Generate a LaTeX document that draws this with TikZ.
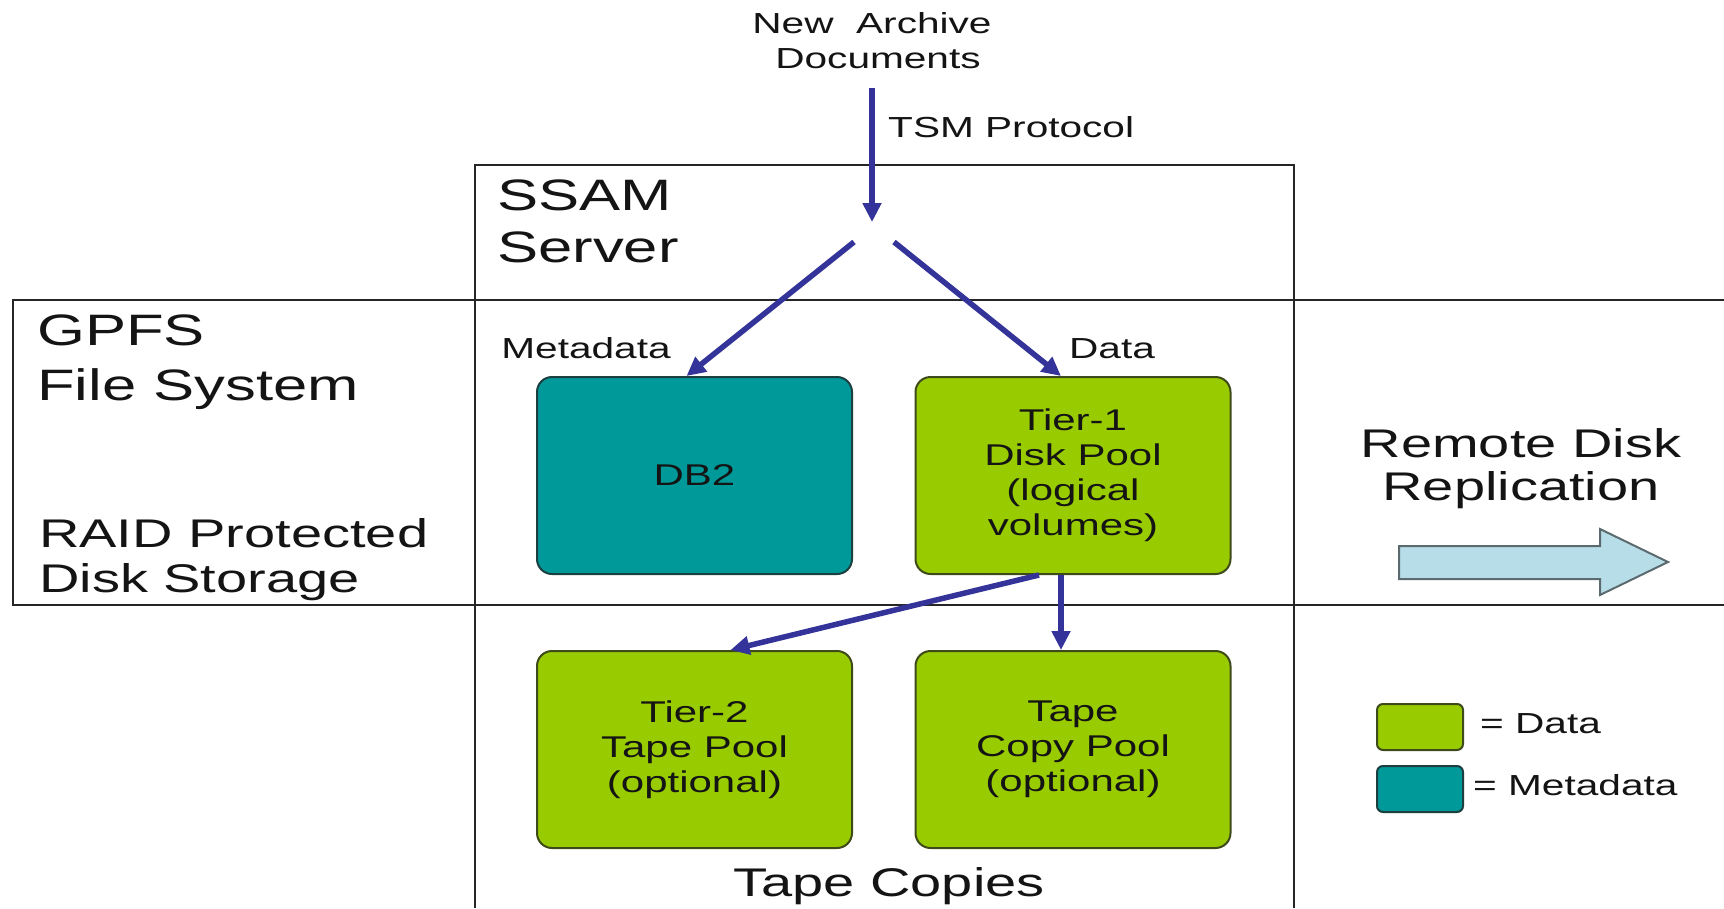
\documentclass[tikz,border=0pt]{standalone}
\usepackage{fontspec}
\setmainfont{Liberation Sans}[FakeStretch=1.4]
\usetikzlibrary{arrows.meta}
\definecolor{datagreen}{HTML}{99CC00}
\definecolor{metateal}{HTML}{009999}
\definecolor{greenedge}{HTML}{3E4A1A}
\definecolor{tealedge}{HTML}{1C3F3F}
\definecolor{flowblue}{HTML}{333399}
\definecolor{repfill}{HTML}{B7DEE8}
\definecolor{repedge}{HTML}{5A6A6E}
\definecolor{textc}{HTML}{141414}
\begin{document}
\begin{tikzpicture}[x=1pt,y=-1pt,
  frame/.style={draw=black!85, line width=1.8pt},
  flow/.style={draw=flowblue, line width=5.5pt, -{Triangle[length=19pt,width=18pt]}},
  pool/.style={rounded corners=15pt, line width=2pt, minimum width=315pt, minimum height=197pt,
    align=center, font=\fontsize{30}{35}\selectfont, inner sep=0pt, text=textc},
  datapool/.style={pool, fill=datagreen, draw=greenedge},
  metapool/.style={pool, fill=metateal, draw=tealedge},
  legbox/.style={rounded corners=6pt, line width=2pt, minimum width=86pt, minimum height=46pt, inner sep=0pt},
  small/.style={font=\fontsize{29}{35}\selectfont, inner sep=0pt, text=textc},
  big/.style={font=\fontsize{44}{50}\selectfont, inner sep=0pt, text=textc},
  mid/.style={font=\fontsize{40}{45}\selectfont, inner sep=0pt, text=textc},
  repl/.style={fill=repfill, draw=repedge, line width=2pt, line join=miter}
]
\useasboundingbox (0,0) rectangle (1724,908);
\fill[white] (0,0) rectangle (1724,908);

% frames
\draw[frame] (475,908) -- (475,165) -- (1294,165) -- (1294,908);
\draw[frame] (1724,300) -- (13,300) -- (13,605) -- (1724,605);

% pools
\node[metapool] (db2) at (694.5,475.5) {DB2};
\node[datapool] (t1) at (1073,475.5) {Tier-1\\Disk Pool\\(logical\\volumes)};
\node[datapool] (t2) at (694.5,749.5) {Tier-2\\Tape Pool\\(optional)};
\node[datapool] (tape) at (1073,749.5) {Tape\\Copy Pool\\(optional)};

% texts
\node[small, anchor=base] (newarch) at (872,33) {New\ \ Archive};
\node[small, anchor=base] (docs) at (878,68) {Documents};
\node[small, anchor=base west] (tsm) at (888,137) {TSM Protocol};
\node[big, anchor=base west] (ssam) at (497,210) {SSAM};
\node[big, anchor=base west] (server) at (497,262) {Server};
\node[big, anchor=base west] (gpfs) at (37,345) {GPFS};
\node[big, anchor=base west] (filesys) at (37,400) {File System};
\node[mid, anchor=base west] (raid) at (39,547) {RAID Protected};
\node[mid, anchor=base west] (diskst) at (39,592) {Disk Storage};
\node[small, anchor=base] (metalbl) at (586,358) {Metadata};
\node[small, anchor=base] (datalbl) at (1112,358) {Data};
\node[mid, anchor=base] (tapecop) at (889,896) {Tape Copies};
\node[mid, anchor=base] (remote) at (1521,457) {Remote Disk};
\node[mid, anchor=base] (replic) at (1521,500) {Replication};

% flows
\coordinate (inTop) at (872,88);
\coordinate (hub) at (872,222);
\coordinate (splitL) at (854,242);
\coordinate (splitR) at (894,242);
\draw[flow] (inTop) -- (hub);
\draw[flow] (splitL) -- ([xshift=-8pt]db2.north);
\draw[flow] (splitR) -- ([xshift=-12pt]t1.north);
\draw[flow] ([xshift=-34pt]t1.south) -- ([xshift=36pt]t2.north);
\draw[flow] ([xshift=-12pt]t1.south) -- ([xshift=-12pt]tape.north);

% replication arrow
\draw[repl] (1399,546) -- (1600,546) -- (1600,529) -- (1668,562) -- (1600,595) -- (1600,579) -- (1399,579) -- cycle;

% legend
\node[legbox, fill=datagreen, draw=greenedge] (legdata) at (1420,727) {};
\node[legbox, fill=metateal, draw=tealedge] (legmeta) at (1420,789) {};
\node[small, anchor=base west] (legdatat) at (1480,733) {= Data};
\node[small, anchor=base west] (legmetat) at (1473,795) {= Metadata};
\end{tikzpicture}
\end{document}
